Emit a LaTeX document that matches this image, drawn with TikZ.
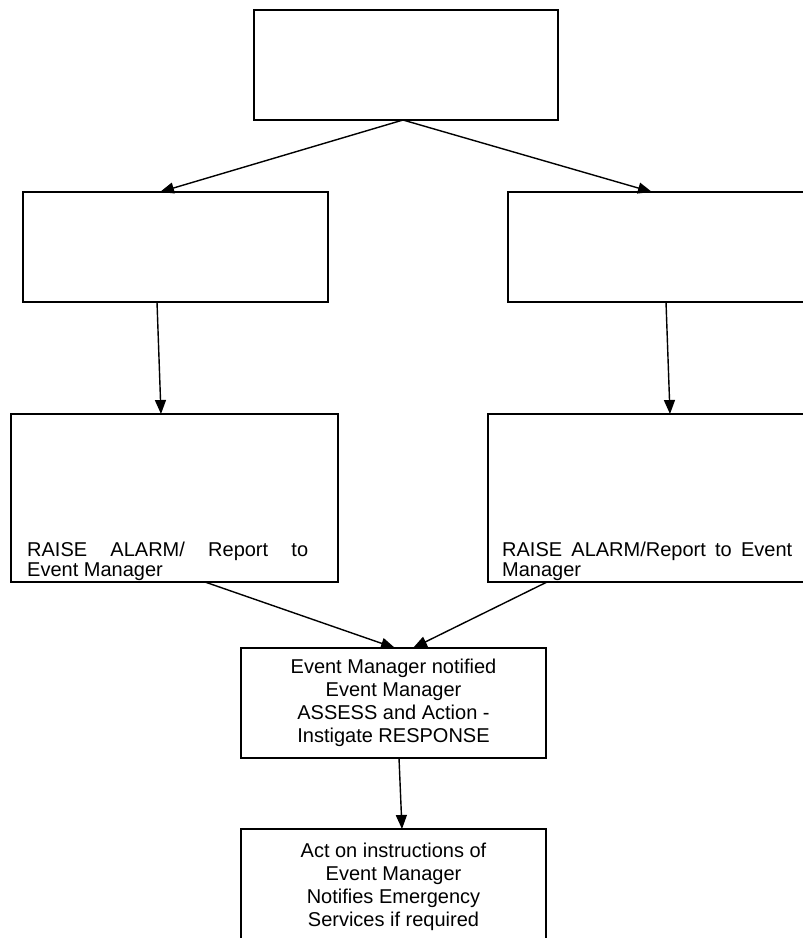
\documentclass[tikz,border=0pt]{standalone}
\usepackage{fontspec}
\setmainfont{Liberation Sans}
\usetikzlibrary{arrows.meta}
\begin{document}
\begin{tikzpicture}[x=1pt,y=-1pt,
  box/.style={draw=black, line width=1.4pt, inner sep=0pt, outer sep=0pt, fill=white},
  txt/.style={font=\fontsize{20}{23}\selectfont, align=center},
  linetxt/.style={anchor=base west, inner sep=0pt, font=\fontsize{20}{18}\selectfont},
  arr/.style={line width=1.4pt, -{Triangle[length=14pt,width=11pt]}}]
\useasboundingbox (0,0) rectangle (803,938);
\clip (0,0) rectangle (803,938);
\fill[white] (0,0) rectangle (803,938);
% boxes
\node[box, minimum width=304pt, minimum height=110pt] (top) at (406,65) {};
\node[box, minimum width=305pt, minimum height=110pt] (l2) at (175.5,247) {};
\node[box, minimum width=305pt, minimum height=110pt] (r2) at (660.5,247) {};
\node[box, minimum width=327pt, minimum height=168pt] (l3) at (174.5,498) {};
\node[box, minimum width=327pt, minimum height=168pt] (r3) at (651.5,498) {};
\node[box, txt, minimum width=305pt, minimum height=110pt] (mid) at (393.5,703)
  {Event Manager notified\\Event Manager\\ASSESS and Action -\\Instigate RESPONSE};
\node[box, txt, minimum width=305pt, minimum height=116pt] (bot) at (393.5,887)
  {Act on instructions of\\Event Manager\\Notifies Emergency\\Services if required};
% texts in lower side boxes
\node[linetxt, text depth=0pt] (l3a) at (27,556.5) {\makebox[281pt][s]{RAISE ALARM/ Report to}};
\node[linetxt] (l3b) at (27,576.5) {Event Manager};
\node[linetxt, text depth=0pt] (r3a) at (502,556.5) {\makebox[290pt][s]{RAISE ALARM/Report to Event}};
\node[linetxt] (r3b) at (502,576.5) {Manager};
% connectors
\draw[arr] ([xshift=-3pt]top.south) -- ([xshift=137pt]l2.north west);
\draw[arr] ([xshift=-3pt]top.south) -- ([xshift=144pt]r2.north west);
\draw[arr] ([xshift=134pt]l2.south west) -- ([xshift=150pt]l3.north west);
\draw[arr] ([xshift=158pt]r2.south west) -- ([xshift=182pt]r3.north west);
\draw[arr] ([xshift=194pt]l3.south west) -- ([xshift=154pt]mid.north west);
\draw[arr] ([xshift=59pt]r3.south west) -- ([xshift=172pt]mid.north west);
\draw[arr] ([xshift=158pt]mid.south west) -- ([xshift=161pt]bot.north west);
\end{tikzpicture}
\end{document}
